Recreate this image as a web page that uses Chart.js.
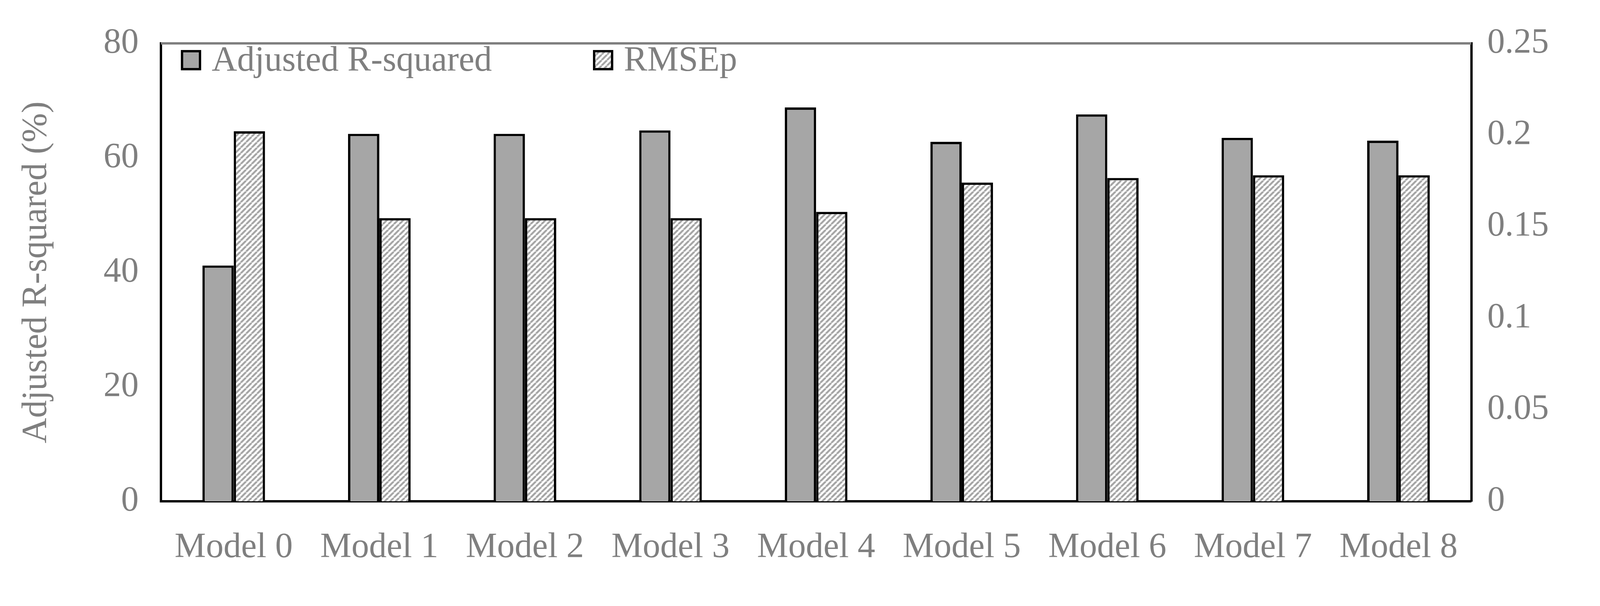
<!DOCTYPE html>
<html><head><meta charset="utf-8">
<script src="https://cdn.jsdelivr.net/npm/chart.js@4/dist/chart.umd.min.js"></script>
<style>html,body{margin:0;padding:0;background:#fff}#w{width:4244px;height:1551px}</style>
</head><body><div id="w"><canvas id="c"></canvas></div>
<script>
const categories = ["Model 0","Model 1","Model 2","Model 3","Model 4","Model 5","Model 6","Model 7","Model 8"];
const adjR2 = [41.2, 64.2, 64.2, 64.8, 68.8, 62.8, 67.6, 63.5, 63.0];
const rmsep = [0.202, 0.1546, 0.1546, 0.1546, 0.158, 0.174, 0.1765, 0.178, 0.178];
const leftTicks = [0,20,40,60,80];
const rightTicks = [0,0.05,0.1,0.15,0.2,0.25];

function hatch(){
  const s=14, p=document.createElement('canvas'); p.width=s; p.height=s;
  const g=p.getContext('2d'); g.fillStyle='#fff'; g.fillRect(0,0,s,s);
  g.strokeStyle='#a6a6a6'; g.lineWidth=5;
  for(let k=-1;k<=1;k++){g.beginPath();g.moveTo(k*s,s);g.lineTo(k*s+s,0);g.stroke();}
  return g.createPattern(p,'repeat');
}
const grey='#7f7f7f', F="'Liberation Serif','Times New Roman',serif", FS=90;
const legendXs=[466,1521];
const deco={id:'deco',afterDraw(c){const a=c.chartArea,x=c.ctx;x.save();
  x.strokeStyle=grey;x.lineWidth=6;x.beginPath();x.moveTo(a.left,a.top);x.lineTo(a.right,a.top);x.stroke();
  x.font=FS+'px '+F;x.textBaseline='middle';
  c.data.datasets.forEach((d,i)=>{const bx=legendXs[i],by=a.top+20;
    x.fillStyle=d.backgroundColor;x.fillRect(bx,by,46,46);x.strokeStyle='#000';x.lineWidth=6;x.strokeRect(bx,by,46,46);
    x.fillStyle=grey;x.fillText(d.label,bx+76,by+26);});
  x.restore();}};
new Chart(document.getElementById('c'),{
  type:'bar',
  data:{labels:categories,datasets:[
    {label:'Adjusted R-squared',data:adjR2,yAxisID:'y',backgroundColor:'#a6a6a6',borderColor:'#000',borderWidth:6,borderSkipped:'bottom'},
    {label:'RMSEp',data:rmsep,yAxisID:'y1',backgroundColor:hatch(),borderColor:'#000',borderWidth:6,borderSkipped:'bottom'}
  ]},
  options:{responsive:true,maintainAspectRatio:false,animation:false,
    devicePixelRatio:1,
    layout:{padding:{top:55,left:40,right:20,bottom:30}},
    datasets:{bar:{categoryPercentage:0.43,barPercentage:1}},
    plugins:{tooltip:{enabled:false},legend:{display:false}},
    scales:{
      x:{grid:{display:false,drawTicks:false},border:{color:'#000',width:6},
        ticks:{color:grey,font:{family:F,size:FS},padding:65,maxRotation:0}},
      y:{position:'left',min:0,max:80,afterBuildTicks(a){a.ticks=leftTicks.map(v=>({value:v}));},
        grid:{display:false,drawTicks:false},border:{color:'#000',width:6},
        ticks:{color:grey,font:{family:F,size:FS},padding:57},
        title:{display:true,text:'Adjusted R-squared (%)',color:grey,font:{family:F,size:FS},padding:{top:0,bottom:60}}},
      y1:{position:'right',min:0,max:0.25,afterBuildTicks(a){a.ticks=rightTicks.map(v=>({value:v}));},
        grid:{display:false,drawTicks:false},border:{color:'#000',width:6},
        ticks:{color:grey,font:{family:F,size:FS},padding:41,callback:v=>String(+v.toFixed(2))},
        title:{display:true,text:'RMSEp (ton/ha)',color:grey,font:{family:F,size:FS},padding:{top:0,bottom:110}}}
    }},
  plugins:[deco]
});
</script></body></html>
